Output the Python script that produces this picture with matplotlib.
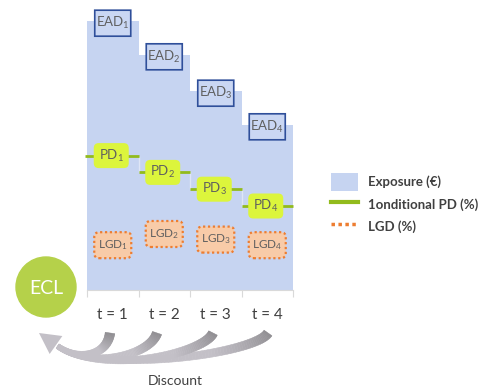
import numpy as np
import matplotlib
matplotlib.use("Agg")
import matplotlib.pyplot as plt
from matplotlib.patches import FancyBboxPatch, Circle, Patch, Polygon
from matplotlib.collections import PolyCollection
from matplotlib.colors import to_rgb
from matplotlib.lines import Line2D
from matplotlib.transforms import ScaledTranslation

plt.rcParams['font.family'] = ['Lato', 'DejaVu Sans']
plt.rcParams['mathtext.fontset'] = 'custom'
plt.rcParams['mathtext.rm'] = 'Lato'
plt.rcParams['mathtext.it'] = 'Lato'
plt.rcParams['mathtext.bf'] = 'Lato:bold'

# data
periods = ['t = 1', 't = 2', 't = 3', 't = 4']
ead = [96, 84, 71, 59]     # exposure steps
pd_vals = [48, 42, 36, 30]  # conditional PD level
lgd = [16, 20, 18, 16]      # LGD box level
legend_labels = ['Exposure (€)', '1onditional PD (%)', 'LGD (%)']

blue = '#c6d4f1'
green = '#92bb1c'
lime = '#dcf53c'
peach = '#f8cba8'
orange = '#ed7d31'
grey_txt = '#5f5f5f'

fig = plt.figure(figsize=(4.88, 3.87), dpi=100)
bg = fig.add_axes([0, 0, 1, 1])
bg.set_xlim(0, 488)
bg.set_ylim(387, 0)
bg.axis('off')

ax = fig.add_axes([87 / 488, (387 - 290) / 387, 206 / 488, 280 / 387])
x = np.arange(len(ead))
ax.bar(x, ead, width=1, align='edge', color=blue, linewidth=0)
ax.set_xlim(0, 4)
ax.set_ylim(0, 100)
for s in ['top', 'left', 'right']:
    ax.spines[s].set_visible(False)
ax.spines['bottom'].set_color('#d9d9d9')
ax.set_yticks([])
ax.set_xticks(np.arange(5))
ax.set_xticklabels([])
ax.tick_params(axis='x', which='major', length=5, color='#d9d9d9', direction='out')
ax.set_xticks(x + 0.5, minor=True)
ax.set_xticklabels(periods, minor=True, fontsize=11, color='#404040')
ax.tick_params(axis='x', which='minor', length=0, pad=13)

# PD step line
ax.vlines(x[1:], pd_vals[1:], pd_vals[:-1], color='#dfe6f6', lw=1)
starts = x.astype(float)
starts[0] = -0.04
ax.hlines(pd_vals, starts, x + 1, color=green, lw=2, clip_on=False)


def box(xc, yc, w, h, text, face, edge, ls, lw, r, fs, dx=0, dy=0):
    tr = fig.dpi_scale_trans + ScaledTranslation(xc, yc, ax.transData)
    p = FancyBboxPatch((-w / 2 + dx, -h / 2 + dy), w, h,
                       boxstyle=f"round,pad=0,rounding_size={r}",
                       transform=tr, facecolor=face, edgecolor=edge,
                       linestyle=ls, linewidth=lw, clip_on=False, zorder=3)
    ax.add_patch(p)
    ax.text(dx, dy, text, transform=tr, ha='center', va='center',
            fontsize=fs, color=grey_txt, zorder=4)


for i in range(4):
    n = i + 1
    box(i + 0.5, ead[i], 0.36, 0.26, rf'EAD$_{{{n}}}$', '#cad7f3', '#2f4f9a',
        '-', 1.2, 0.0, 9.5, dy=-0.02)
    box(i + 0.5, pd_vals[i], 0.35, 0.25, rf'PD$_{{{n}}}$', lime, 'none',
        '-', 0, 0.05, 9.5, dx=-0.015)
    box(i + 0.5, lgd[i], 0.37, 0.26, rf'LGD$_{{{n}}}$', peach, orange,
        (0, (1, 1.2)), 1.6, 0.05, 8.5)

# ECL circle
bg.add_patch(Circle((46, 287), 30, color='#b5d14a', zorder=2))
bg.text(46, 288, 'ECL', ha='center', va='center', fontsize=14, color='white')

# discount arrows (figure pixels, y down)
head_tip = np.array([39.0, 333.0])
head_base = np.array([56.0, 345.0])
d = (head_base - head_tip) / np.linalg.norm(head_base - head_tip)
perp = np.array([-d[1], d[0]])
curves = [
    ((268, 333), (255, 354), 52),
    ((213, 333), (203, 355), 52),
    ((157, 333), (150, 356), 42),
    ((110, 333), (107, 356), 28),
]
dark = np.array(to_rgb('#8e8c90'))
light = np.array(to_rgb('#c3c0c7'))
tt = np.linspace(0, 1, 80)
for p0, p1, k in curves:
    p0 = np.array(p0, float)
    p1 = np.array(p1, float)
    p3 = head_base + d * 2
    p2 = head_base + d * k
    pts = ((1 - tt) ** 3)[:, None] * p0 + (3 * (1 - tt) ** 2 * tt)[:, None] * p1 \
        + (3 * (1 - tt) * tt ** 2)[:, None] * p2 + (tt ** 3)[:, None] * p3
    tang = np.gradient(pts, axis=0)
    tang /= np.linalg.norm(tang, axis=1)[:, None]
    nrm = np.column_stack([-tang[:, 1], tang[:, 0]])
    hw = 4.8 - 2.3 * tt
    left = pts + nrm * hw[:, None]
    right = pts - nrm * hw[:, None]
    quads, cols = [], []
    for j in range(len(tt) - 1):
        quads.append([left[j], left[j + 1], right[j + 1], right[j]])
        f = min(tt[j] / 0.35, 1.0)
        cols.append(dark * (1 - f) + light * f)
    bg.add_collection(PolyCollection(quads, facecolors=cols, edgecolors=cols,
                                     linewidths=0.4, zorder=2))
bg.add_patch(Polygon([head_tip, head_base + perp * 11, head_base - perp * 11],
                     closed=True, color=light, lw=0, zorder=2))
bg.text(175, 381, 'Discount', ha='center', va='center', fontsize=10, color='#404040')

# legend
handles = [Patch(facecolor=blue, edgecolor='none'),
           Line2D([], [], color=green, lw=3),
           Line2D([], [], color=orange, lw=2.5, linestyle=(0, (1, 1)))]
leg = fig.legend(handles, legend_labels, loc='upper left',
                 bbox_to_anchor=(319 / 488, 1 - 161 / 387), frameon=False,
                 prop={'weight': 'bold', 'size': 9.5}, handlelength=2.05,
                 handleheight=1.75, handletextpad=0.8, labelspacing=0.3)
for t in leg.get_texts():
    t.set_color('#404040')

fig.savefig('out.png', dpi=100)
